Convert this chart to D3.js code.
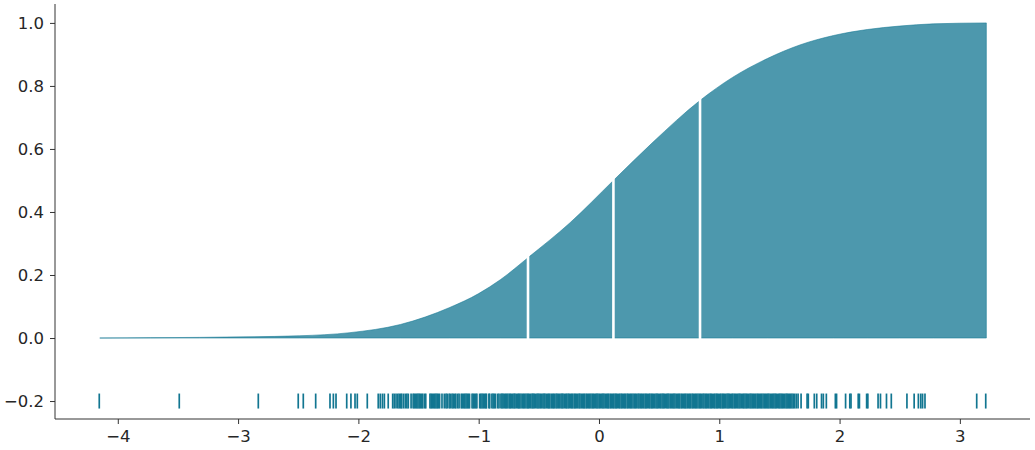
<!DOCTYPE html>
<html>
<head>
<meta charset="utf-8">
<script src="https://cdn.jsdelivr.net/npm/d3@7"></script>
<style>
  html, body { margin: 0; padding: 0; background: #fff; }
  svg text { font-family: "DejaVu Sans", sans-serif; }
</style>
</head>
<body>
<svg id="chart" width="1035" height="450"></svg>
<script>
// Cumulative density curve
const cdfX = [-4.15, -3.73, -3.32, -2.90, -2.49, -2.07, -1.65, -1.24, -1.00, -0.82, -0.59, -0.24, 0.12, 0.45, 0.84, 1.11, 1.40, 1.67, 1.95, 2.23, 2.50, 2.78, 3.22];
const cdfY = [0.000, 0.001, 0.002, 0.004, 0.007, 0.017, 0.043, 0.097, 0.141, 0.185, 0.255, 0.366, 0.500, 0.622, 0.754, 0.827, 0.887, 0.930, 0.960, 0.979, 0.990, 0.997, 1.000];

// Quartile split positions and their cumulative heights
const quantX = [-0.59, 0.12, 0.84];
const quantY = [0.25, 0.50, 0.75];

// Rug of observations at y = -0.2
const rugY = -0.2;
const rugValues = [
  -4.154, -3.489, -2.832, -2.500, -2.458, -2.355, -2.236, -2.208, -2.186, -2.097, -2.062, -2.028, -2.009, -1.926,
  -1.835, -1.818, -1.800, -1.784, -1.752, -1.715, -1.702, -1.687, -1.672, -1.660, -1.648, -1.640, -1.625, -1.610,
  -1.597, -1.585, -1.562, -1.545, -1.535, -1.525, -1.515, -1.505, -1.495, -1.485, -1.475, -1.465, -1.450, -1.440,
  -1.405, -1.395, -1.385, -1.375, -1.365, -1.355, -1.345, -1.335, -1.325, -1.305, -1.286, -1.272, -1.262, -1.246,
  -1.236, -1.222, -1.212, -1.200, -1.190, -1.175, -1.163, -1.145, -1.135, -1.125, -1.115, -1.105, -1.095, -1.085,
  -1.076, -1.055, -1.045, -1.035, -1.025, -1.015, -0.992, -0.982, -0.972, -0.962, -0.952, -0.942, -0.935, -0.915,
  -0.908, -0.890, -0.880, -0.870, -0.860,
  -0.842, -0.831, -0.815, -0.806, -0.797, -0.786, -0.776, -0.768, -0.757, -0.745, -0.737, -0.728, -0.716, -0.706,
  -0.698, -0.687, -0.675, -0.667, -0.659, -0.648, -0.636, -0.627, -0.618, -0.607, -0.596, -0.588, -0.579, -0.567,
  -0.556, -0.548, -0.539, -0.528, -0.516, -0.507, -0.498, -0.487, -0.478, -0.466, -0.457, -0.449, -0.438, -0.426,
  -0.418, -0.409, -0.397, -0.386, -0.378, -0.369, -0.357, -0.348, -0.337, -0.328, -0.316, -0.307, -0.299, -0.288,
  -0.276, -0.268, -0.257, -0.248, -0.236, -0.227, -0.218, -0.206, -0.197, -0.188, -0.177, -0.166, -0.158, -0.147,
  -0.136, -0.127, -0.118, -0.106, -0.097, -0.086, -0.078, -0.067, -0.056, -0.047, -0.038, -0.026, -0.017, -0.008,
  0.003, 0.012, 0.024, 0.033, 0.042, 0.053, 0.064, 0.073, 0.082, 0.094, 0.103, 0.114, 0.123, 0.134, 0.143, 0.152,
  0.164, 0.173, 0.184, 0.193, 0.204, 0.213, 0.222, 0.234, 0.243, 0.254, 0.263, 0.272, 0.283, 0.294, 0.303, 0.312,
  0.324, 0.333, 0.344, 0.353, 0.362, 0.373, 0.384, 0.393, 0.402, 0.414, 0.423, 0.434, 0.443, 0.452, 0.463, 0.474,
  0.483, 0.492, 0.504, 0.513, 0.524, 0.533, 0.542, 0.553, 0.564, 0.573, 0.582, 0.594, 0.603, 0.614, 0.623, 0.632,
  0.643, 0.654, 0.663, 0.672, 0.684, 0.693, 0.704, 0.713, 0.722, 0.733, 0.744, 0.753, 0.762, 0.774, 0.783, 0.794,
  0.803, 0.812, 0.823, 0.834, 0.843, 0.852, 0.864, 0.873, 0.884, 0.893, 0.902, 0.913, 0.924, 0.933, 0.942, 0.954,
  0.963, 0.974, 0.983, 0.992, 1.004, 1.013, 1.024, 1.033, 1.042, 1.053, 1.064, 1.073, 1.082, 1.093, 1.104, 1.113,
  1.124, 1.134, 1.143, 1.154, 1.164, 1.173, 1.184, 1.195, 1.204, 1.214, 1.224, 1.233, 1.244, 1.255, 1.264, 1.274,
  1.284, 1.293, 1.304, 1.315, 1.324, 1.334, 1.344, 1.353, 1.364, 1.375, 1.384, 1.394, 1.404, 1.413, 1.424, 1.435,
  1.444, 1.454, 1.464, 1.473, 1.484, 1.495, 1.504, 1.514, 1.524, 1.533, 1.544, 1.555, 1.564, 1.574, 1.584, 1.593,
  1.604, 1.615, 1.626,
  1.640, 1.655, 1.680, 1.730, 1.740, 1.790, 1.810, 1.850, 1.865, 1.890, 1.965, 1.975, 2.050, 2.085, 2.095, 2.155,
  2.165, 2.225, 2.235, 2.320, 2.340, 2.390, 2.430, 2.560, 2.620, 2.655, 2.675, 2.690, 2.710, 3.140, 3.215
];

const xTicks = [-4, -3, -2, -1, 0, 1, 2, 3];
const yTicks = [-0.2, 0.0, 0.2, 0.4, 0.6, 0.8, 1.0];

const svg = d3.select("#chart");
const x = d3.scaleLinear().domain([-4.522, 3.583]).range([55, 1030]);
const y = d3.scaleLinear().domain([-0.257, 1.060]).range([419, 4]);

const baseColor = "#127691";
const pts = cdfX.map((v, i) => [v, cdfY[i]]);

// Filled cumulative area
const area = d3.area()
  .x(d => x(d[0]))
  .y0(y(0))
  .y1(d => y(d[1]))
  .curve(d3.curveMonotoneX);

svg.append("path")
  .datum(pts)
  .attr("d", area)
  .attr("fill", baseColor)
  .attr("fill-opacity", 0.75)
  .attr("stroke", baseColor)
  .attr("stroke-opacity", 0.55)
  .attr("stroke-width", 1);

// White quartile separators
svg.selectAll("line.q")
  .data(quantX.map((v, i) => [v, quantY[i]]))
  .join("line")
  .attr("class", "q")
  .attr("x1", d => x(d[0]))
  .attr("x2", d => x(d[0]))
  .attr("y1", y(0) + 1)
  .attr("y2", d => y(d[1] + 0.03))
  .attr("stroke", "#ffffff")
  .attr("stroke-width", 2.6);

// Rug
svg.selectAll("line.rug")
  .data(rugValues)
  .join("line")
  .attr("class", "rug")
  .attr("x1", d => x(d))
  .attr("x2", d => x(d))
  .attr("y1", y(rugY) - 7.5)
  .attr("y2", y(rugY) + 7.5)
  .attr("stroke", baseColor)
  .attr("stroke-width", 1.7);

// Axes
const xAxis = d3.axisBottom(x).tickValues(xTicks).tickSize(5).tickPadding(6)
  .tickFormat(d3.format("d"));
const yAxis = d3.axisLeft(y).tickValues(yTicks).tickSize(5).tickPadding(6)
  .tickFormat(d3.format(".1f"));

const gx = svg.append("g").attr("transform", `translate(0,${y.range()[0]})`).call(xAxis);
const gy = svg.append("g").attr("transform", `translate(${x.range()[0]},0)`).call(yAxis);

[gx, gy].forEach(g => {
  g.select(".domain").attr("stroke", "#333333").attr("stroke-width", 1)
    .attr("d", g === gx ? `M${x.range()[0]},0H${x.range()[1]}` : `M0,${y.range()[0]}V${y.range()[1]}`);
  g.selectAll(".tick line").attr("stroke", "#333333").attr("stroke-width", 1);
  g.selectAll(".tick text").attr("fill", "#262626").style("font-size", "16.5px")
    .style("font-family", "'DejaVu Sans', sans-serif");
});
</script>
</body>
</html>
